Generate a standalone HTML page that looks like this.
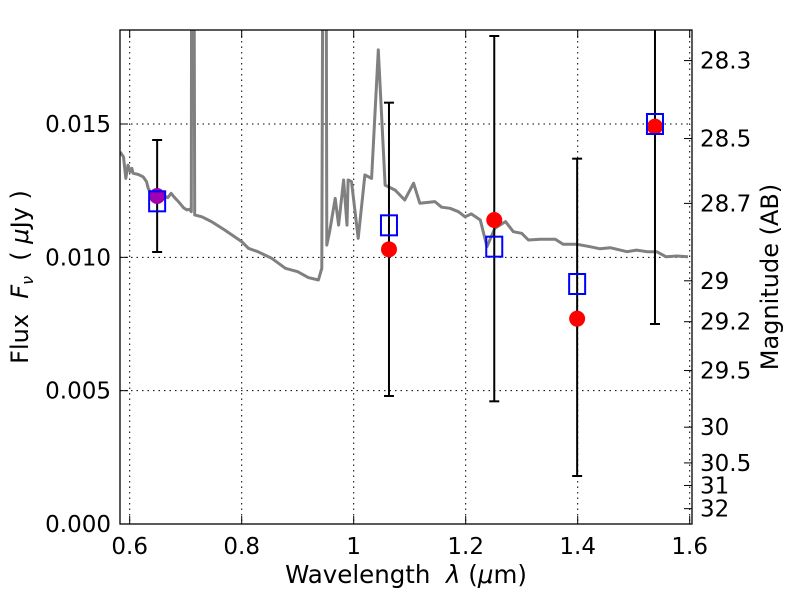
<!DOCTYPE html>
<html><head><meta charset="utf-8"><style>
body{margin:0;background:#fff;}
svg text{font-family:"DejaVu Sans","Liberation Sans",sans-serif;fill:#000;white-space:pre;}
</style></head><body>
<svg id="chart" width="800" height="600" viewBox="0 0 800 600" xmlns="http://www.w3.org/2000/svg" xml:space="preserve">
<defs><clipPath id="clip"><rect x="120" y="30" width="572" height="494"/></clipPath></defs>
<rect x="0" y="0" width="800" height="600" fill="#fff"/>
<g id="grid"></g>
<g id="spec" clip-path="url(#clip)"></g>
<g id="marks" clip-path="url(#clip)"></g>
<rect x="120" y="30" width="572" height="494" fill="none" stroke="#000" stroke-width="1.3"/>
<g id="axes"></g>
<text x="406" y="583" font-size="24.5" text-anchor="middle">Wavelength  <tspan font-style="italic">λ</tspan> (<tspan font-style="italic">μ</tspan>m)</text>
<text transform="translate(28,277) rotate(-90)" font-size="24" text-anchor="middle">Flux  <tspan font-style="italic">F</tspan><tspan font-style="italic" font-size="16" dy="5">ν</tspan><tspan dy="-5">  ( </tspan><tspan font-style="italic">μ</tspan>Jy )</text>
<text transform="translate(778,277) rotate(-90)" font-size="24" text-anchor="middle">Magnitude (AB)</text>
</svg>
<script>
const specLam=[0.583,0.589,0.593,0.597,0.601,0.604,0.606,0.615,0.624,0.630,0.633,0.638,0.647,0.660,0.668,0.674,0.679,0.687,0.696,0.702,0.707,0.710,0.711,0.714,0.716,0.729,0.746,0.770,0.800,0.812,0.829,0.854,0.878,0.900,0.919,0.937,0.943,0.946,0.950,0.952,0.957,0.967,0.973,0.982,0.988,0.990,0.996,1.008,1.020,1.032,1.044,1.056,1.074,1.091,1.107,1.118,1.145,1.157,1.172,1.187,1.199,1.210,1.226,1.238,1.252,1.271,1.285,1.300,1.312,1.333,1.360,1.374,1.399,1.422,1.440,1.458,1.488,1.505,1.524,1.541,1.558,1.577,1.597];
const specFlux=[0.01395,0.01377,0.01296,0.01346,0.01321,0.01334,0.01315,0.01311,0.01302,0.01284,0.01259,0.01240,0.01234,0.01231,0.01224,0.01240,0.01227,0.01209,0.01186,0.01178,0.01180,0.01171,0.03,0.03,0.01159,0.01152,0.01134,0.01102,0.01059,0.01034,0.01021,0.00996,0.00959,0.00946,0.00924,0.00915,0.00959,0.03,0.03,0.01046,0.01096,0.01221,0.01121,0.01290,0.01121,0.01290,0.01284,0.01071,0.01309,0.01296,0.01778,0.01271,0.01252,0.01215,0.01278,0.01203,0.01209,0.01188,0.01184,0.01171,0.01152,0.01163,0.01140,0.01040,0.01109,0.01134,0.01096,0.01090,0.01065,0.01068,0.01068,0.01049,0.01049,0.01040,0.01032,0.01036,0.01021,0.01027,0.01021,0.01021,0.01002,0.01005,0.01002];
const obsLam=[0.649,1.063,1.251,1.399,1.538];
const obsFlux=[0.0123,0.0103,0.0114,0.0077,0.0149];
const obsLo=[0.0102,0.0048,0.0046,0.0018,0.0075];
const obsHi=[0.0144,0.0158,0.0183,0.0137,0.0250];
const modelFlux=[0.0121,0.0112,0.0104,0.0090,0.0150];
const xTicks=[0.6,0.8,1.0,1.2,1.4,1.6];
const xTickLabels=["0.6","0.8","1","1.2","1.4","1.6"];
const yTicks=[0,0.005,0.010,0.015];
const yTickLabels=["0.000","0.005","0.010","0.015"];
const magTicks=[28.3,28.5,28.7,29,29.2,29.5,30,30.5,31,32];
const magTickLabels=["28.3","28.5","28.7","29","29.2","29.5","30","30.5","31","32"];

const X=v=>129.7+(v-0.6)*560;
const Y=v=>524-v*26667;
const magToFlux=m=>Math.pow(10,(23.9-m)/2.5);
const NS="http://www.w3.org/2000/svg";
function mk(tag,attrs,parent){const e=document.createElementNS(NS,tag);for(const k in attrs)e.setAttribute(k,attrs[k]);parent.appendChild(e);return e;}
const grid=document.getElementById('grid'),axes=document.getElementById('axes'),spec=document.getElementById('spec'),marks=document.getElementById('marks');

xTicks.forEach((t,i)=>{const x=X(t);
 let g=mk('line',{x1:x,x2:x,y1:30,y2:524,stroke:'#000','stroke-width':1,'stroke-dasharray':'1.5,4'},grid);
 
 mk('line',{x1:x,x2:x,y1:524,y2:516,stroke:'#000'},axes);mk('line',{x1:x,x2:x,y1:30,y2:38,stroke:'#000'},axes);
 let tx=mk('text',{x:x,y:554,'font-size':23,'text-anchor':'middle'},axes);tx.textContent=xTickLabels[i];
 
});
yTicks.forEach((t,i)=>{const y=Y(t);
 if(t>0){let g=mk('line',{x1:120,x2:692,y1:y,y2:y,stroke:'#000','stroke-width':1,'stroke-dasharray':'1.5,4'},grid);
 }
 mk('line',{x1:120,x2:128,y1:y,y2:y,stroke:'#000'},axes);
 let tx=mk('text',{x:111,y:y+8,'font-size':23,'text-anchor':'end'},axes);tx.textContent=yTickLabels[i];
 
});
magTicks.forEach((m,i)=>{const y=Y(magToFlux(m));
 mk('line',{x1:692,x2:684,y1:y,y2:y,stroke:'#000'},axes);
 let tx=mk('text',{x:700,y:y+8,'font-size':23},axes);tx.textContent=magTickLabels[i];
 
});
let pts=specLam.map((l,i)=>X(l).toFixed(1)+','+Y(specFlux[i]).toFixed(1)).join(' ');
let pl=mk('polyline',{points:pts,fill:'none',stroke:'#808080','stroke-width':3,'stroke-linejoin':'round'},spec);


obsLam.forEach((l,i)=>{const x=X(l);
 const e=mk('g',{},marks);
 
 mk('line',{x1:x,x2:x,y1:Y(obsLo[i]),y2:Y(obsHi[i]),stroke:'#000','stroke-width':2},e);
 mk('line',{x1:x-5,x2:x+5,y1:Y(obsLo[i]),y2:Y(obsLo[i]),stroke:'#000','stroke-width':2},e);
 mk('line',{x1:x-5,x2:x+5,y1:Y(obsHi[i]),y2:Y(obsHi[i]),stroke:'#000','stroke-width':2},e);
 const c=mk('circle',{cx:x,cy:Y(obsFlux[i]),r:8,fill:'#f00'},marks);
 
 const s=mk('rect',{x:x-8,y:Y(modelFlux[i])-10,width:16,height:20,fill:'none',stroke:'#00f','stroke-width':2},marks);
 
 if(i===0){c.setAttribute('fill','#a000b0');}
});
</script>
</body></html>
